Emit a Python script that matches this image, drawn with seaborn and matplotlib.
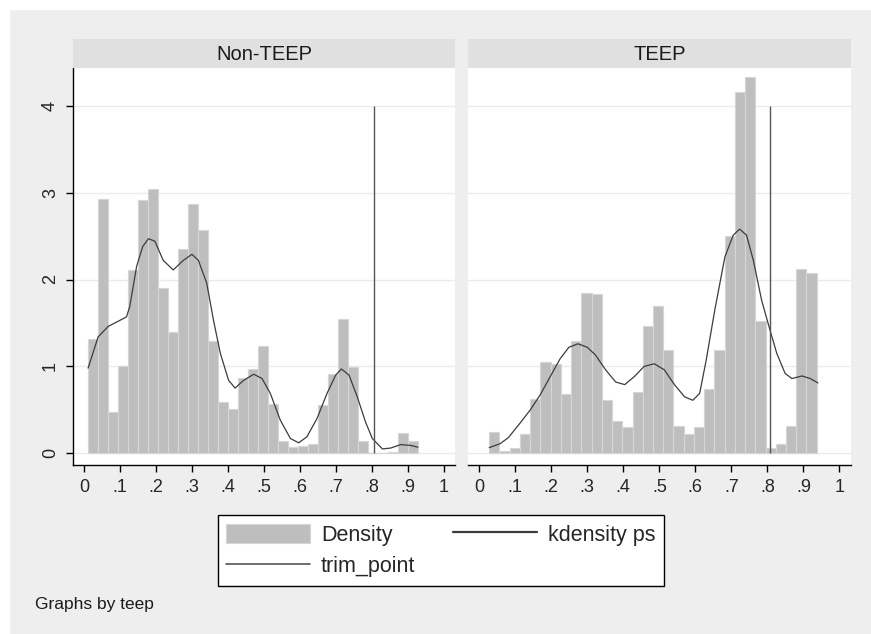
import numpy as np
import pandas as pd
import seaborn as sn
import matplotlib.pyplot as plt
from matplotlib.patches import Patch, Rectangle
from matplotlib.lines import Line2D

sn.set_style('white')
plt.rcParams['font.family'] = ['Liberation Sans', 'DejaVu Sans']

panels = ['Non-TEEP', 'TEEP']

# histogram (density) of ps
nonteep_bin_start = 0.011
nonteep_bin_width = 0.0278
nonteep_density = [1.32, 2.93, 0.48, 1.00, 2.11, 2.92, 3.04, 1.90, 1.40, 2.35, 2.87,
                   2.57, 1.29, 0.59, 0.51, 0.87, 0.97, 1.24, 0.57, 0.14, 0.07, 0.08,
                   0.11, 0.56, 0.91, 1.55, 0.99, 0.14, 0.0, 0.0, 0.01, 0.23, 0.14]

teep_bin_start = 0.028
teep_bin_width = 0.0284
teep_density = [0.25, 0.03, 0.065, 0.22, 0.63, 1.05, 1.03, 0.68, 1.29, 1.84, 1.83,
                0.61, 0.37, 0.30, 0.70, 1.46, 1.69, 1.19, 0.31, 0.22, 0.30, 0.74,
                1.19, 2.50, 4.16, 4.33, 1.52, 0.065, 0.11, 0.31, 2.12, 2.07]

# kdensity ps curves
nonteep_kde_x = [0.011, 0.039, 0.067, 0.095, 0.118, 0.127, 0.146, 0.163, 0.179, 0.197,
                 0.220, 0.248, 0.276, 0.300, 0.318, 0.341, 0.360, 0.379, 0.402, 0.420,
                 0.444, 0.472, 0.495, 0.518, 0.546, 0.574, 0.597, 0.620, 0.648, 0.676,
                 0.700, 0.716, 0.737, 0.760, 0.783, 0.802, 0.830, 0.853, 0.881, 0.909, 0.929]
nonteep_kde_y = [0.98, 1.34, 1.46, 1.52, 1.57, 1.69, 2.15, 2.38, 2.47, 2.44,
                 2.22, 2.11, 2.22, 2.29, 2.22, 1.96, 1.53, 1.15, 0.84, 0.75,
                 0.84, 0.91, 0.86, 0.69, 0.38, 0.17, 0.12, 0.19, 0.40, 0.69,
                 0.90, 0.97, 0.90, 0.65, 0.36, 0.17, 0.05, 0.06, 0.10, 0.09, 0.07]

teep_kde_x = [0.028, 0.058, 0.081, 0.114, 0.142, 0.169, 0.197, 0.225, 0.249, 0.274,
              0.300, 0.323, 0.351, 0.379, 0.404, 0.430, 0.458, 0.486, 0.514, 0.542,
              0.570, 0.593, 0.612, 0.630, 0.654, 0.682, 0.705, 0.723, 0.742, 0.761,
              0.784, 0.807, 0.826, 0.849, 0.868, 0.896, 0.919, 0.940]
teep_kde_y = [0.065, 0.11, 0.18, 0.35, 0.50, 0.67, 0.88, 1.09, 1.22, 1.26,
              1.22, 1.13, 0.96, 0.82, 0.79, 0.88, 1.00, 1.03, 0.96, 0.79,
              0.65, 0.61, 0.69, 1.07, 1.65, 2.26, 2.51, 2.58, 2.51, 2.22,
              1.76, 1.42, 1.15, 0.92, 0.86, 0.89, 0.86, 0.81]

trim_point = 0.807
trim_top = 4

x_ticks = [0, 0.1, 0.2, 0.3, 0.4, 0.5, 0.6, 0.7, 0.8, 0.9, 1]
x_ticklabels = ['0', '.1', '.2', '.3', '.4', '.5', '.6', '.7', '.8', '.9', '1']
y_ticks = [0, 1, 2, 3, 4]
y_ticklabels = ['0', '1', '2', '3', '4']

bar_color = '#bebebe'
bar_edge = '#d6d6d6'
kde_color = '#3c3c3c'
trim_color = '#555555'
bg = '#eeeeee'

W, H = 871, 634


def draw_panel(ax, start, width, density, kde_x, kde_y, first):
    edges = [start + width * k for k in range(len(density) + 1)]
    hist_df = pd.DataFrame({'ps': [e + width / 2 for e in edges[:-1]], 'density': density})
    kde_df = pd.DataFrame({'ps': kde_x, 'kde': kde_y})
    sn.histplot(data=hist_df, x='ps', weights='density', bins=edges, ax=ax, stat='count',
                color=bar_color, edgecolor=bar_edge, linewidth=0.8, alpha=1)
    sn.lineplot(data=kde_df, x='ps', y='kde', ax=ax, color=kde_color, linewidth=0.9)
    ax.vlines(trim_point, 0, trim_top, color=trim_color, linewidth=1.0)

    ax.set_xlim(-0.031, 1.032)
    ax.set_ylim(-0.135, 4.44)
    ax.set_xticks(x_ticks)
    ax.set_xticklabels(x_ticklabels)
    ax.set_yticks(y_ticks)
    ax.set_yticklabels(y_ticklabels, rotation=90, va='center')
    ax.set_xlabel('')
    ax.set_ylabel('')
    ax.set_axisbelow(True)
    ax.grid(axis='y', color='#ebebeb', linewidth=1)
    ax.set_facecolor('white')
    for s in ['top', 'right']:
        ax.spines[s].set_visible(False)
    ax.spines['bottom'].set_color('black')
    ax.spines['bottom'].set_linewidth(1)
    ax.tick_params(axis='x', bottom=True, length=5, width=1, color='black',
                   labelsize=13, pad=5, direction='out')
    if first:
        ax.spines['left'].set_color('black')
        ax.spines['left'].set_linewidth(1)
        ax.tick_params(axis='y', left=True, length=5, width=1, color='black',
                       labelsize=13, pad=5, direction='out')
    else:
        ax.spines['left'].set_visible(False)
        ax.tick_params(axis='y', left=False, labelleft=False)


fig = plt.figure(figsize=(W / 100, H / 100), dpi=100, facecolor=bg)
fig.patches.append(Rectangle((0, 0), 9 / W, 1, transform=fig.transFigure, color='white', zorder=-1))
fig.patches.append(Rectangle((0, 1 - 9 / H), 1, 9 / H, transform=fig.transFigure, color='white', zorder=-1))

panel_x = [(73, 455), (468, 851)]
data = [(nonteep_bin_start, nonteep_bin_width, nonteep_density, nonteep_kde_x, nonteep_kde_y),
        (teep_bin_start, teep_bin_width, teep_density, teep_kde_x, teep_kde_y)]

for i, (title, (x0, x1), d) in enumerate(zip(panels, panel_x, data)):
    ax = fig.add_axes([x0 / W, 1 - 465 / H, (x1 - x0) / W, (465 - 67.5) / H])
    draw_panel(ax, *d, first=(i == 0))
    hax = fig.add_axes([x0 / W, 1 - 67.5 / H, (x1 - x0) / W, (67.5 - 38.5) / H])
    hax.set_facecolor('#e0e0e0')
    hax.set_xticks([])
    hax.set_yticks([])
    for s in hax.spines.values():
        s.set_visible(False)
    hax.text(0.5, 0.45, title, ha='center', va='center', fontsize=14.5, color='#1a1a1a',
             transform=hax.transAxes)

handles = [Patch(facecolor=bar_color, edgecolor=bar_edge, linewidth=0.8),
           Line2D([], [], color=trim_color, linewidth=1.2),
           Line2D([], [], color=kde_color, linewidth=1.6)]
labels = ['Density', 'trim_point', 'kdensity ps']
leg = fig.legend(handles, labels, ncol=2, loc='upper left',
                 bbox_to_anchor=(217.5 / W, 1 - 515 / H), frameon=True, fancybox=False,
                 edgecolor='black', facecolor='white', framealpha=1, fontsize=15.5,
                 handlelength=3.9, handleheight=1.0, handletextpad=0.5,
                 columnspacing=1.75, labelspacing=0.45, borderpad=0.4, borderaxespad=0)
leg.get_frame().set_linewidth(1)

fig.text(35 / W, 1 - 605 / H, 'Graphs by teep', fontsize=12.5, va='center', ha='left',
         color='#1a1a1a')

fig.savefig('out.png', dpi=100, facecolor=bg)
